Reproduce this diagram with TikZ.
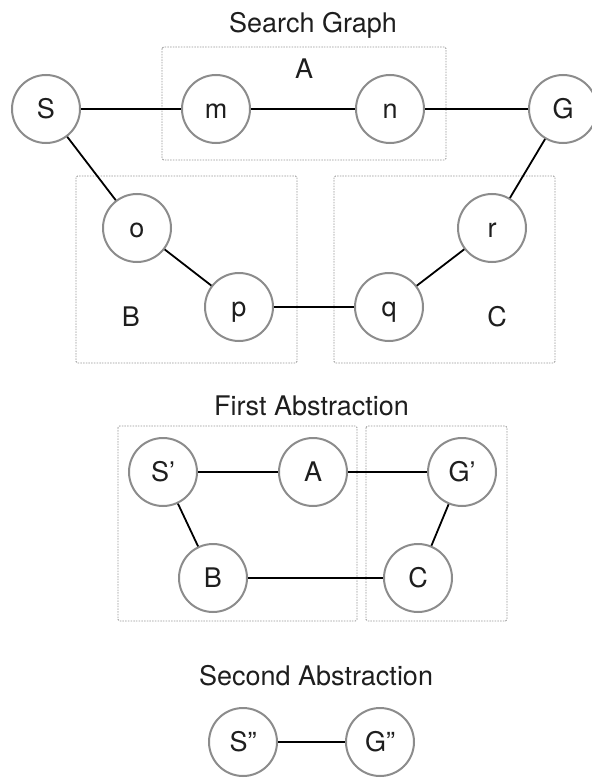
\documentclass[tikz,border=0pt]{standalone}
\usepackage{fontspec}
\setmainfont{TeX Gyre Heros}
\definecolor{circgray}{RGB}{140,140,140}
\definecolor{boxgray}{RGB}{150,150,150}
\definecolor{txt}{RGB}{30,30,30}
\tikzset{
  vert/.style={circle, draw=circgray, line width=2pt, fill=white, minimum size=68pt, inner sep=0pt,
    text height=19.5pt, text depth=0pt, font=\fontsize{27}{30}\selectfont, text=txt},
  edge/.style={line width=1.8pt, black},
  group/.style={draw=boxgray, line width=0.8pt, dash pattern=on 1.5pt off 1.2pt, rounded corners=1.5pt},
  title/.style={anchor=base, font=\fontsize{27}{30}\selectfont, text=txt, inner sep=0pt},
  glabel/.style={font=\fontsize{27}{30}\selectfont, text=txt, inner sep=0pt, text height=19.5pt, text depth=0pt}
}
\begin{document}
\begin{tikzpicture}[x=1pt,y=-1pt]
\useasboundingbox (0,0) rectangle (591,778);
% group boxes
\draw[group] (162,47) rectangle (446,160);
\draw[group] (76,176) rectangle (297,363);
\draw[group] (334,176) rectangle (555,363);
\draw[group] (118,426) rectangle (357,621);
\draw[group] (366,426) rectangle (507,621);
% titles
\node[title] (t1) at (313,33) {Search Graph};
\node[title] (t2) at (311.5,415) {First Abstraction};
\node[title] (t3) at (316,685) {Second Abstraction};
% group labels
\node[glabel] (lA) at (304,69) {A};
\node[glabel] (lB) at (131,317) {B};
\node[glabel] (lC) at (497,317) {C};
% search graph
\node[vert] (S) at (46,109) {S};
\node[vert] (m) at (216,109) {m};
\node[vert] (n) at (390,109) {n};
\node[vert] (G) at (563,109) {G};
\node[vert] (o) at (137,228) {o};
\node[vert] (p) at (239,307) {p};
\node[vert] (q) at (389,307) {q};
\node[vert] (r) at (492,228) {r};
\draw[edge] (S) -- (m);
\draw[edge] (m) -- (n);
\draw[edge] (n) -- (G);
\draw[edge] (S) -- (o);
\draw[edge] (o) -- (p);
\draw[edge] (p) -- (q);
\draw[edge] (q) -- (r);
\draw[edge] (r) -- (G);
% first abstraction
\node[vert] (S1) at (163,472) {S'};
\node[vert] (A1) at (313,472) {A};
\node[vert] (G1) at (462,472) {G'};
\node[vert] (B1) at (213,578) {B};
\node[vert] (C1) at (418,578) {C};
\draw[edge] (S1) -- (A1);
\draw[edge] (A1) -- (G1);
\draw[edge] (S1) -- (B1);
\draw[edge] (B1) -- (C1);
\draw[edge] (C1) -- (G1);
% second abstraction
\node[vert] (S2) at (243,742) {S''};
\node[vert] (G2) at (380,742) {G''};
\draw[edge] (S2) -- (G2);
\end{tikzpicture}
\end{document}
